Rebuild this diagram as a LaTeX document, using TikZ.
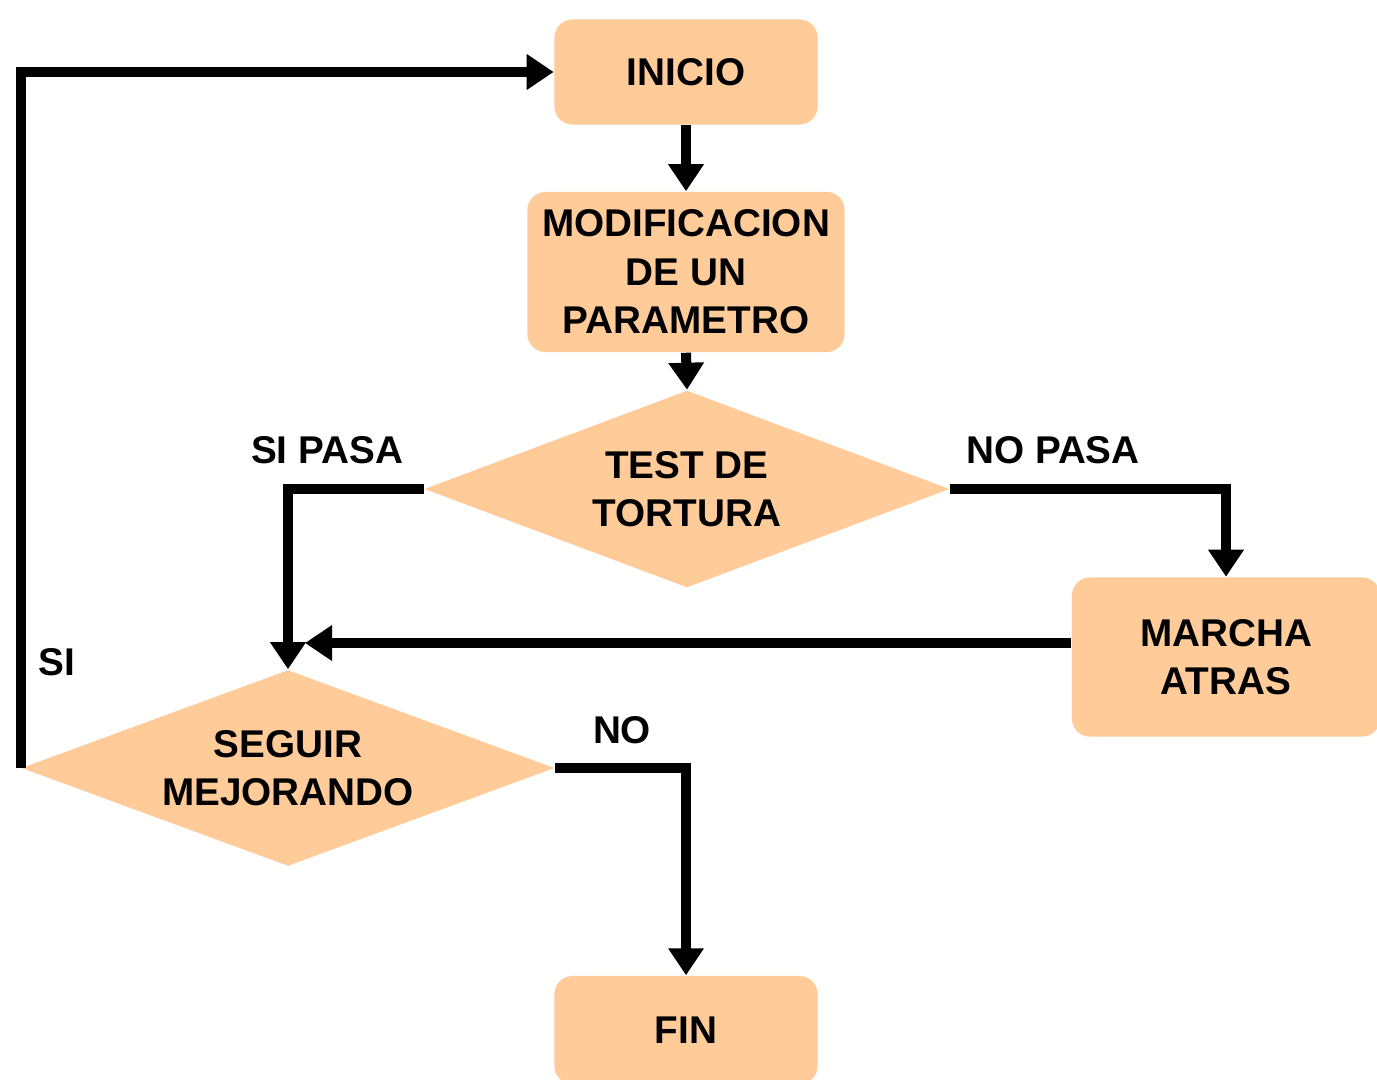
\documentclass[tikz,border=0pt]{standalone}
\usepackage{fontspec}
\setmainfont{Liberation Sans}
\usepackage{xcolor}
\definecolor{fig-peach}{HTML}{FFCC99}
\definecolor{fig-ink}{HTML}{000000}
\usetikzlibrary{arrows.meta,positioning,calc,shapes.geometric}

\begin{document}
\begin{tikzpicture}[
    x=0.01cm, y=-0.01cm,
    font=\fontsize{11}{13.8}\selectfont\bfseries,
    box/.style={rounded corners=0.18cm, fill=fig-peach, draw=none, align=center, inner sep=2pt},
    decision/.style={diamond, aspect=2.7, fill=fig-peach, draw=none, align=center, inner sep=0pt},
    tag/.style={text=fig-ink},
    flow/.style={-{Triangle[length=0.27cm, width=0.34cm]}, draw=fig-ink, line width=0.1cm},
]
\path[use as bounding box, fill=white] (0,0) rectangle (1377,1079);

\node[box, minimum width=2.63cm, minimum height=1.05cm] (inicio) at (686,72) {INICIO};
\node[box, minimum width=3.17cm, minimum height=1.60cm] (modif) at (686,272)
    {MODIFICACION\\DE UN\\PARAMETRO};
\node[decision, minimum width=5.25cm, minimum height=1.97cm] (test) at (687,489)
    {TEST DE\\TORTURA};
\node[box, minimum width=3.08cm, minimum height=1.59cm] (marcha) at (1226,657)
    {MARCHA\\ATRAS};
\node[decision, minimum width=5.33cm, minimum height=1.96cm] (seguir) at (288,768)
    {SEGUIR\\MEJORANDO};
\node[box, minimum width=2.63cm, minimum height=1.08cm] (fin) at (686,1030) {FIN};

\node[tag] (sipasa) at (327,450) {SI PASA};
\node[tag] (nopasa) at (1053,450) {NO PASA};
\node[tag] (si) at (57,662) {SI};
\node[tag] (no) at (622,730) {NO};

\coordinate (join) at (305,643);
\draw[flow] (inicio.south) -- (modif.north);
\draw[flow] (modif.south) -- (test.north);
\draw[flow] (test.west) -| (seguir.north);
\draw[flow] (test.east) -| (marcha.north);
\draw[flow] (marcha.west |- join) -- (join);
\draw[flow] (seguir.east) -| (fin.north);
\draw[flow] (seguir.west) |- (inicio.west);
\end{tikzpicture}
\end{document}
